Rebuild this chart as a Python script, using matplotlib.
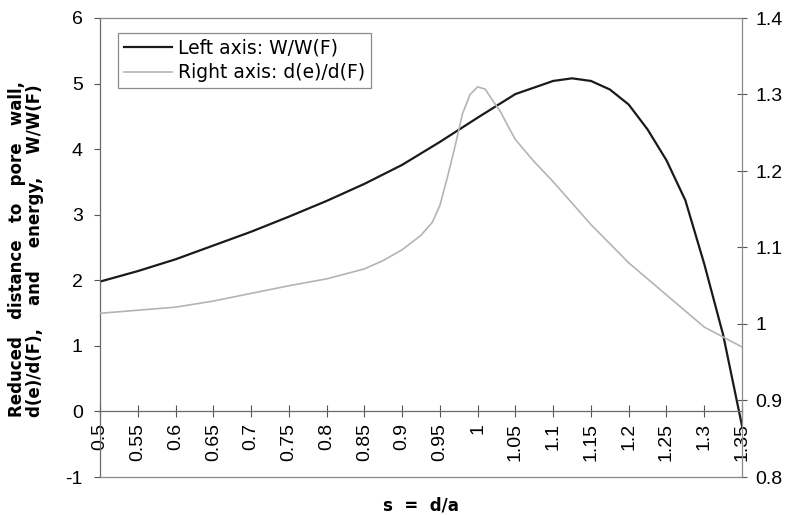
import matplotlib
matplotlib.use("Agg")
import matplotlib.pyplot as plt

# ---- data ----
s_w = [0.50, 0.55, 0.60, 0.65, 0.70, 0.75, 0.80, 0.85, 0.90, 0.95, 1.00, 1.05,
       1.10, 1.125, 1.15, 1.175, 1.20, 1.225, 1.25, 1.275, 1.30, 1.325, 1.35]
w_ratio = [1.98, 2.14, 2.32, 2.53, 2.74, 2.97, 3.21, 3.47, 3.76, 4.11, 4.48, 4.84,
           5.04, 5.08, 5.04, 4.91, 4.68, 4.30, 3.83, 3.22, 2.25, 1.17, -0.22]

s_d = [0.50, 0.55, 0.60, 0.65, 0.70, 0.75, 0.80, 0.85, 0.875, 0.90, 0.925, 0.94,
       0.95, 0.96, 0.97, 0.98, 0.99, 1.00, 1.01, 1.02, 1.03, 1.04, 1.05, 1.075,
       1.10, 1.15, 1.20, 1.25, 1.30, 1.35]
d_ratio = [1.014, 1.018, 1.022, 1.030, 1.040, 1.050, 1.059, 1.072, 1.083, 1.097,
           1.116, 1.133, 1.155, 1.192, 1.232, 1.275, 1.300, 1.310, 1.307, 1.292,
           1.278, 1.259, 1.241, 1.212, 1.186, 1.130, 1.080, 1.038, 0.996, 0.970]

x_ticks = [0.5, 0.55, 0.6, 0.65, 0.7, 0.75, 0.8, 0.85, 0.9, 0.95, 1.0, 1.05,
           1.1, 1.15, 1.2, 1.25, 1.3, 1.35]
x_tick_labels = ["0.5", "0.55", "0.6", "0.65", "0.7", "0.75", "0.8", "0.85", "0.9",
                 "0.95", "1", "1.05", "1.1", "1.15", "1.2", "1.25", "1.3", "1.35"]
left_ticks = [-1, 0, 1, 2, 3, 4, 5, 6]
left_tick_labels = ["-1", "0", "1", "2", "3", "4", "5", "6"]
right_ticks = [0.8, 0.9, 1.0, 1.1, 1.2, 1.3, 1.4]
right_tick_labels = ["0.8", "0.9", "1", "1.1", "1.2", "1.3", "1.4"]

label_w = "Left axis: W/W(F)"
label_d = "Right axis: d(e)/d(F)"
ylabel_lines = ["Reduced   distance   to   pore   wall,",
                "d(e)/d(F),    and    energy,    W/W(F)"]
xlabel = "s  =  d/a"

# ---- figure ----
W, H = 790, 515
fig = plt.figure(figsize=(W / 100, H / 100), dpi=100)
ax = fig.add_axes([100 / W, 1 - 477 / H, 642 / W, 459 / H])
ax2 = ax.twinx()

tick_font = "Liberation Sans"
frame_col = "#8a8a8a"

# axis line at y = 0 (set before tick styling, since it resets the ticks)
ax.spines["bottom"].set_position(("data", 0))
ax.spines["bottom"].set_color("#6a6a6a")
ax.spines["bottom"].set_linewidth(0.9)
for sp in ["top", "right"]:
    ax.spines[sp].set_visible(False)
ax.spines["left"].set_color("#6a6a6a")
ax.spines["left"].set_linewidth(0.9)
for sp in ["top", "bottom", "right"]:
    ax2.spines[sp].set_color(frame_col)
    ax2.spines[sp].set_linewidth(0.9)
ax2.spines["left"].set_visible(False)

l1, = ax.plot(s_w, w_ratio, color="#1a1a1a", lw=1.6, label=label_w)
l2, = ax2.plot(s_d, d_ratio, color="#b4b4b4", lw=1.2, label=label_d)

ax.set_xlim(0.5, 1.35)
ax.set_ylim(-1, 6)
ax2.set_ylim(0.8, 1.4)

ax.set_xticks(x_ticks)
ax.set_xticklabels(x_tick_labels, rotation=90, family=tick_font, fontsize=14)
ax.set_yticks(left_ticks)
ax.set_yticklabels(left_tick_labels, family=tick_font, fontsize=14)
ax2.set_yticks(right_ticks)
ax2.set_yticklabels(right_tick_labels, family=tick_font, fontsize=14)

ax.tick_params(axis="x", direction="inout", length=8.5, width=0.8,
               color="#555555", pad=4)
ax.tick_params(axis="y", direction="out", length=4.5, width=0.8,
               color="#555555", pad=8)
ax2.tick_params(axis="y", direction="inout", length=7, width=0.8,
                color="#555555", pad=6)

leg = ax2.legend(handles=[l1, l2], loc="upper left",
                 bbox_to_anchor=(0.028, 0.967), borderaxespad=0,
                 fancybox=False, edgecolor=frame_col, framealpha=1,
                 prop={"family": "DejaVu Sans", "size": 13.5},
                 handlelength=2.6, handletextpad=0.3, borderpad=0.3,
                 labelspacing=0.3)
leg.get_frame().set_linewidth(0.9)

fig.text(26 / W, 1 - 417 / H, "\n".join(ylabel_lines), rotation=90,
         ha="center", va="bottom", multialignment="left",
         family="DejaVu Sans", fontweight="bold", fontsize=12,
         linespacing=1.05)
fig.text(421 / W, 1 - 510 / H, xlabel, ha="center", va="baseline",
         family="DejaVu Sans", fontweight="bold", fontsize=12)

fig.savefig("out.png", dpi=100)
